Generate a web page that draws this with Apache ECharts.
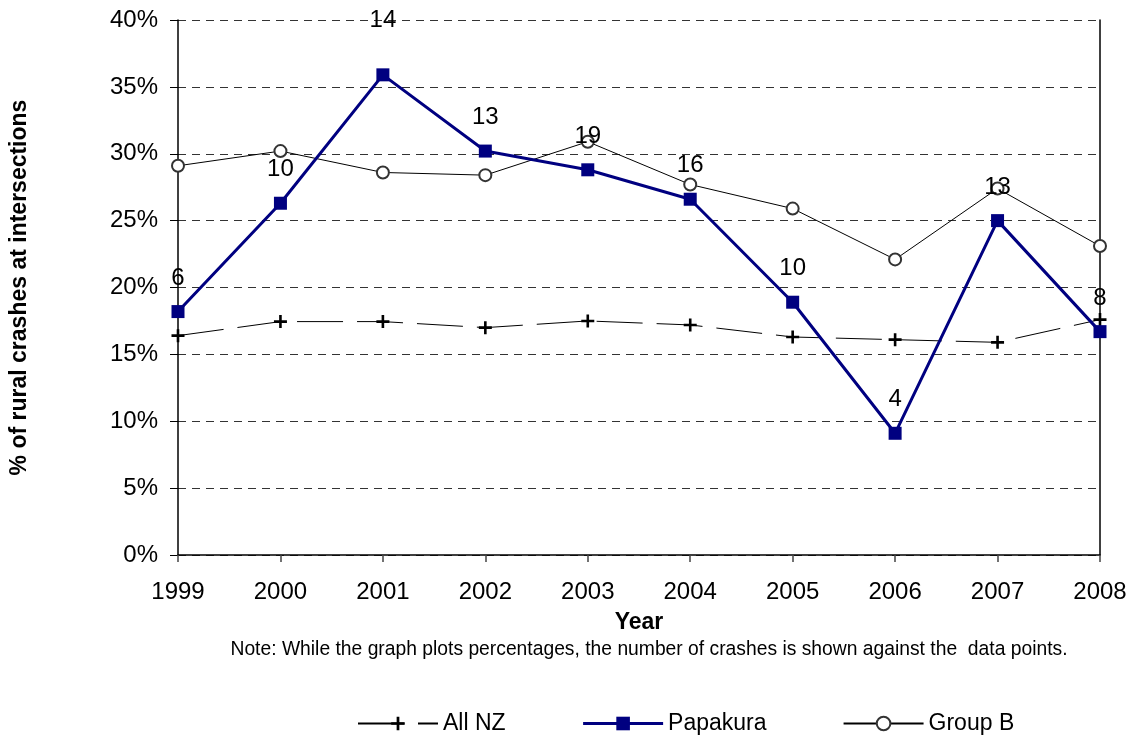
<!DOCTYPE html>
<html>
<head>
<meta charset="utf-8">
<script src="https://cdn.jsdelivr.net/npm/echarts@6/dist/echarts.min.js"></script>
<style>
html,body{margin:0;padding:0;background:#fff;}
#chart{width:1131px;height:737px;}
</style>
</head>
<body>
<div id="chart"></div>
<script>
const years = ['1999','2000','2001','2002','2003','2004','2005','2006','2007','2008'];
const allNZ = [0.164, 0.1745, 0.1745, 0.170, 0.175, 0.172, 0.163, 0.161, 0.159, 0.176];
const papakura = [0.182, 0.263, 0.359, 0.302, 0.288, 0.266, 0.189, 0.091, 0.250, 0.167];
const groupB = [0.291, 0.302, 0.286, 0.284, 0.309, 0.277, 0.259, 0.221, 0.274, 0.231];
const papakuraCrashes = [6, 10, 14, 13, 19, 16, 10, 4, 13, 8];
const yTicks = [0, 0.05, 0.10, 0.15, 0.20, 0.25, 0.30, 0.35, 0.40];

const FONT = 'Liberation Sans, Arial, sans-serif';
const chart = echarts.init(document.getElementById('chart'));

const plusPath = 'path://M4,0H6V4H10V6H6V10H4V6H0V4H4Z';

const papakuraData = papakura.map((v, i) => {
  const d = { value: v, crashes: papakuraCrashes[i] };
  if (i === 2) d.label = { distance: 36 };
  return d;
});

chart.setOption({
  animation: false,
  backgroundColor: '#fff',
  grid: { left: 178, right: 31, top: 20, bottom: 182, containLabel: false },
  xAxis: {
    type: 'category',
    data: years,
    boundaryGap: false,
    name: 'Year',
    nameLocation: 'middle',
    nameGap: 56,
    nameTextStyle: { fontFamily: FONT, fontSize: 23, fontWeight: 'bold', color: '#000' },
    axisLine: { lineStyle: { color: '#000', width: 1.5 } },
    axisTick: { show: true, length: 7, alignWithLabel: true, lineStyle: { color: '#444', width: 1.5 } },
    axisLabel: { fontFamily: FONT, fontSize: 24, color: '#000', margin: 25 },
    splitLine: { show: false }
  },
  yAxis: [{
    type: 'value',
    min: yTicks[0],
    max: yTicks[yTicks.length - 1],
    interval: 0.05,
    name: '% of rural crashes at intersections',
    nameLocation: 'middle',
    nameRotate: 90,
    nameGap: 147,
    nameTextStyle: { fontFamily: FONT, fontSize: 23, fontWeight: 'bold', color: '#000' },
    axisLine: { show: true, lineStyle: { color: '#000', width: 1.5 } },
    axisTick: { show: true, length: 8, lineStyle: { color: '#000', width: 1 } },
    axisLabel: {
      fontFamily: FONT, fontSize: 24, color: '#000', margin: 20,
      formatter: v => Math.round(v * 100) + '%'
    },
    splitLine: { show: true, lineStyle: { color: '#333', type: [8, 6], width: 1 } }
  }, {
    type: 'value',
    min: yTicks[0],
    max: yTicks[yTicks.length - 1],
    interval: 0.05,
    position: 'right',
    axisLine: { show: true, lineStyle: { color: '#000', width: 1.5 } },
    axisTick: { show: false },
    axisLabel: { show: false },
    splitLine: { show: false }
  }],
  legend: {
    left: 352,
    top: 707,
    itemWidth: 80,
    itemHeight: 17,
    itemGap: 76,
    textStyle: { fontFamily: FONT, fontSize: 23, color: '#000' },
    data: [
      { name: 'All NZ' },
      { name: 'Papakura', lineStyle: { width: 3 } },
      { name: 'Group B' }
    ]
  },
  graphic: [{
    type: 'text',
    x: 649,
    y: 640,
    style: {
      text: 'Note: While the graph plots percentages, the number of crashes is shown against the  data points.',
      font: '19.3px ' + FONT,
      fill: '#000',
      align: 'center',
      textAlign: 'center'
    }
  }],
  series: [{
    name: 'All NZ',
    type: 'line',
    data: allNZ,
    symbol: plusPath,
    symbolSize: 13,
    itemStyle: { color: '#000' },
    lineStyle: { color: '#000', width: 1, type: [46, 14] },
    z: 2
  }, {
    name: 'Group B',
    type: 'line',
    data: groupB,
    symbol: 'emptyCircle',
    symbolSize: 12,
    itemStyle: { color: '#333', borderColor: '#333', borderWidth: 2 },
    lineStyle: { color: '#000', width: 1 },
    z: 3
  }, {
    name: 'Papakura',
    type: 'line',
    data: papakuraData,
    symbol: 'rect',
    symbolSize: 13,
    itemStyle: { color: '#000080' },
    lineStyle: { color: '#000080', width: 3 },
    label: {
      show: true,
      position: 'top',
      distance: 15,
      fontFamily: FONT,
      fontSize: 24,
      color: '#000',
      formatter: p => String(p.data.crashes)
    },
    z: 4
  }]
});
</script>
</body>
</html>
